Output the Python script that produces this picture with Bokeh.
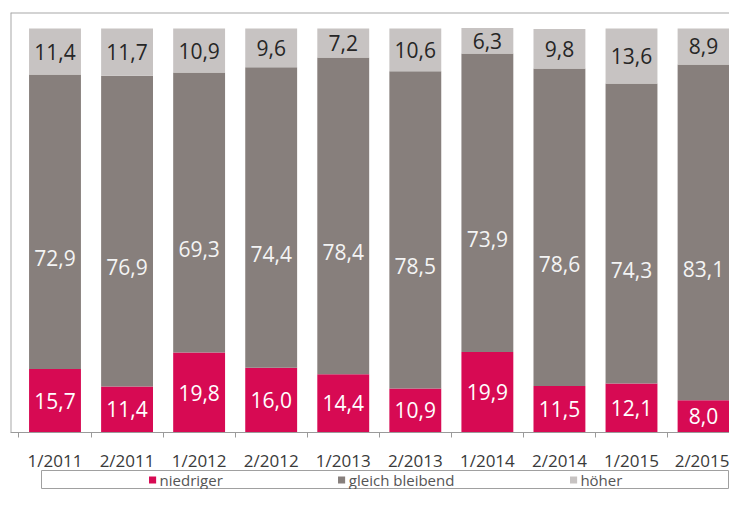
from bokeh.plotting import figure
from bokeh.models import ColumnDataSource, FixedTicker, Legend, LegendItem, Span
from bokeh.layouts import column
from bokeh.embed import file_html
from bokeh.resources import INLINE
from bokeh.core.properties import value

categories = ["1/2011", "2/2011", "1/2012", "2/2012", "1/2013",
              "2/2013", "1/2014", "2/2014", "1/2015", "2/2015"]
niedriger = [15.7, 11.4, 19.8, 16.0, 14.4, 10.9, 19.9, 11.5, 12.1, 8.0]
gleich = [72.9, 76.9, 69.3, 74.4, 78.4, 78.5, 73.9, 78.6, 74.3, 83.1]
hoeher = [11.4, 11.7, 10.9, 9.6, 7.2, 10.6, 6.3, 9.8, 13.6, 8.9]
series_names = ["niedriger", "gleich bleibend", "höher"]
colors = ["#D70A53", "#877F7C", "#C7C3C2"]
label_colors = ["#FFFFFF", "#F4F4F4", "#262626"]
FONT = "Open Sans"

xs = list(range(len(categories)))
fmt = lambda v: f"{v:.1f}".replace(".", ",")

# ranges chosen so the plot frame's top/left edges form the chart's outer border
X0, X1 = -0.6175, 9.36
Y1 = 103.96

src = ColumnDataSource(dict(x=xs, niedriger=niedriger, gleich=gleich, hoeher=hoeher))

p = figure(width=729, height=474, x_range=(X0, X1), y_range=(0, Y1),
           toolbar_location=None, output_backend="svg",
           min_border_left=10, min_border_right=0, min_border_top=12, min_border_bottom=42)
p.vbar_stack(["niedriger", "gleich", "hoeher"], x="x", width=0.72,
             fill_color=colors, line_color=None, source=src)

# value labels
y_n = [n / 2 for n in niedriger]
y_g = [n + g / 2 - 9 for n, g in zip(niedriger, gleich)]
y_h = [n + g + h / 2 for n, g, h in zip(niedriger, gleich, hoeher)]
for ys, vals, col in [(y_n, niedriger, label_colors[0]),
                      (y_g, gleich, label_colors[1]),
                      (y_h, hoeher, label_colors[2])]:
    s = ColumnDataSource(dict(x=xs, y=ys, t=[fmt(v) for v in vals]))
    p.text(x="x", y="y", text="t", source=s, text_align="center", text_baseline="middle",
           text_font=value(FONT), text_font_size="21px", text_color=col)

p.yaxis.visible = False
p.xgrid.visible = False
p.ygrid.visible = False
p.outline_line_color = None

# outer chart border (top and left edges)
p.add_layout(Span(location=Y1, dimension="width", line_color="#A8A8A8", line_width=2))
p.add_layout(Span(location=X0, dimension="height", line_color="#A8A8A8", line_width=2))

ax = p.xaxis[0]
ax.ticker = FixedTicker(ticks=xs, minor_ticks=[i - 0.5 for i in range(len(xs) + 1)])
ax.major_label_overrides = {i: c for i, c in zip(xs, categories)}
ax.major_tick_line_color = None
ax.minor_tick_line_color = "#9A9A9A"
ax.minor_tick_out = 5
ax.minor_tick_in = 0
ax.axis_line_color = "#9A9A9A"
ax.major_label_standoff = 10
ax.major_label_text_font = FONT
ax.major_label_text_font_size = "17px"
ax.major_label_text_color = "#3A3A3A"

# legend panel (a separate strip whose outline is the legend box)
lf = figure(width=698, height=19, x_range=(-3, -2), y_range=(0, 1),
            toolbar_location=None, output_backend="svg", min_border=0,
            margin=(-4, 0, 0, 31))
lf.axis.visible = False
lf.xgrid.visible = False
lf.ygrid.visible = False
lf.outline_line_color = "#A0A0A0"
items = []
for name, col, vals in zip(series_names, colors, [niedriger, gleich, hoeher]):
    r = lf.vbar(x=xs, top=vals, width=0.1, fill_color=col, line_color=None)
    items.append(LegendItem(label=name, renderers=[r]))
legend = Legend(items=items, location="center", orientation="horizontal",
                border_line_color=None, background_fill_alpha=0,
                spacing=114, padding=0, margin=0, glyph_width=9, glyph_height=9,
                label_standoff=3, label_text_font=FONT, label_text_font_size="15px",
                label_text_color="#555555")
lf.add_layout(legend)

layout = column(p, lf, spacing=0, width=729, height=489, styles={"overflow": "hidden"})
open("out.html", "w").write(file_html(layout, INLINE))
